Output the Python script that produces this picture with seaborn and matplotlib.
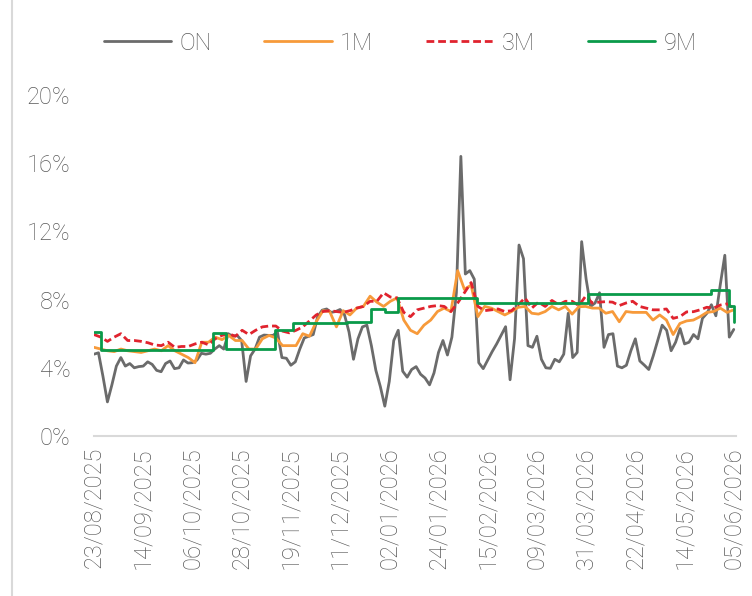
import numpy as np
import pandas as pd
import matplotlib
matplotlib.use("Agg")
import matplotlib.pyplot as plt
import matplotlib.dates as mdates
from matplotlib.lines import Line2D
from matplotlib.ticker import FuncFormatter
import seaborn as sns

# ---------------- data ----------------
start_date = "2025-08-23"
end_date = "2026-06-05"

on_values = [
    4.8, 4.88, 3.5, 2.0, 3.0, 4.1, 4.6, 4.1, 4.25, 4.0,
    4.07, 4.1, 4.35, 4.2, 3.85, 3.77, 4.25, 4.4, 3.95, 4.0,
    4.46, 4.28, 4.3, 4.45, 4.85, 4.8, 4.85, 5.1, 5.3, 5.1,
    6.0, 5.85, 5.9, 5.6, 3.2, 4.7, 5.1, 5.8, 5.92, 5.9,
    5.9, 6.1, 4.6, 4.56, 4.15, 4.35, 5.1, 5.75, 5.85, 5.95,
    7.0, 7.38, 7.45, 7.25, 7.3, 7.42, 7.1, 6.1, 4.5, 5.7,
    6.4, 6.5, 5.3, 3.85, 2.9, 1.75, 3.2, 5.6, 6.2, 3.8,
    3.45, 3.9, 4.07, 3.62, 3.4, 3.0, 3.7, 4.9, 5.6, 4.75,
    5.8, 8.4, 16.4, 9.5, 9.7, 9.2, 4.3, 3.95, 4.45, 4.95,
    5.4, 5.9, 6.41, 3.3, 5.7, 11.2, 10.4, 5.3, 5.2, 5.85,
    4.5, 4.0, 3.97, 4.5, 4.35, 4.8, 7.2, 4.6, 4.9, 11.4,
    9.2, 7.6, 7.8, 8.4, 5.2, 5.95, 6.0, 4.1, 4.0, 4.15,
    5.0, 5.7, 4.4, 4.16, 3.9, 4.7, 5.6, 6.5, 6.2, 5.0,
    5.5, 6.3, 5.4, 5.5, 5.95, 5.7, 6.9, 7.2, 7.7, 7.05,
    8.9, 10.6, 5.8, 6.25,
]

m1_values = [
    5.2, 5.1, 5.0, 4.95, 5.1, 5.0, 4.95, 4.9, 5.0, 5.1,
    5.0, 5.3, 5.0, 4.8, 4.6, 4.3, 5.5, 5.5, 5.8, 5.65,
    5.9, 5.6, 5.6, 5.1, 5.1, 5.7, 5.9, 5.75, 5.3, 5.3,
    5.3, 6.0, 5.85, 6.7, 7.35, 7.3, 6.4, 7.35, 7.1, 7.5,
    7.6, 8.2, 7.85, 7.6, 7.9, 8.1, 6.8, 6.2, 6.0, 6.5,
    6.8, 7.3, 7.5, 7.3, 9.7, 8.6, 8.85, 7.0, 7.6, 7.5,
    7.3, 7.1, 7.3, 7.55, 7.6, 7.2, 7.15, 7.3, 7.6, 7.4,
    7.6, 7.15, 7.58, 7.6, 7.5, 7.5, 7.2, 7.3, 6.7, 7.3,
    7.25, 7.25, 7.25, 6.8, 7.1, 6.8, 5.95, 6.6, 6.75, 6.8,
    7.0, 7.25, 7.3, 7.5, 7.25, 7.4,
]

m3_values = [
    5.95, 5.8, 5.55, 5.8, 6.0, 5.6, 5.6, 5.55, 5.47, 5.34,
    5.3, 5.5, 5.2, 5.25, 5.25, 5.4, 5.5, 5.35, 5.7, 5.9,
    6.0, 5.85, 6.2, 5.95, 6.2, 6.4, 6.45, 6.45, 6.15, 6.05,
    6.2, 6.4, 6.75, 7.1, 7.3, 7.35, 7.3, 7.25, 7.35, 7.5,
    7.6, 7.9, 7.9, 8.4, 8.15, 8.1, 7.25, 7.0, 7.4, 7.5,
    7.6, 7.65, 7.6, 7.3, 7.8, 8.4, 9.0, 7.6, 7.35, 7.4,
    7.45, 7.3, 7.35, 7.7, 8.1, 7.5, 7.85, 7.6, 7.95, 7.7,
    7.9, 7.9, 7.65, 8.2, 7.8, 7.85, 7.88, 7.85, 7.65, 7.8,
    7.9, 7.6, 7.5, 7.4, 7.4, 7.45, 6.9, 7.0, 7.28, 7.29,
    7.4, 7.55, 7.5, 7.68, 7.75, 7.5,
]

m9_dates = [
    "2025-08-23", "2025-08-26", "2025-10-15", "2025-10-21", "2025-11-12",
    "2025-11-20", "2025-12-14", "2025-12-25", "2025-12-31", "2026-01-06",
    "2026-02-10", "2026-04-01", "2026-05-26", "2026-06-03", "2026-06-05",
]
m9_values = [
    6.12, 5.04, 6.02, 5.1, 6.22,
    6.6, 6.7, 7.43, 7.29, 8.1,
    7.82, 8.33, 8.56, 7.6, 6.7,
]

series_names = ["ON", "1M", "3M", "9M"]
y_ticks = [0, 4, 8, 12, 16, 20]

# ---------------- frames ----------------
on_df = pd.DataFrame({"date": pd.date_range(start_date, end_date, periods=len(on_values)),
                      "rate": on_values})
m1_df = pd.DataFrame({"date": pd.date_range(start_date, end_date, periods=len(m1_values)),
                      "rate": m1_values})
m3_df = pd.DataFrame({"date": pd.date_range(start_date, end_date, periods=len(m3_values)),
                      "rate": m3_values})
m9_df = pd.DataFrame({"date": pd.to_datetime(m9_dates), "rate": m9_values})
tick_dates = pd.date_range(start_date, end_date, freq="22D")

# ---------------- style ----------------
sns.set_theme(style="white")
plt.rcParams["font.family"] = ["Roboto", "DejaVu Sans"]
text_color = "#595959"
fs = 17

fig = plt.figure(figsize=(7.52, 5.96), dpi=100)
ax = fig.add_axes([94 / 752, 1 - 436 / 596, (736 - 94) / 752, (436 - 95) / 596])

lw = 2.0
sns.lineplot(data=on_df, x="date", y="rate", ax=ax, color="#6b6b6b", lw=lw, label="ON")
sns.lineplot(data=m1_df, x="date", y="rate", ax=ax, color="#f79a3a", lw=lw, label="1M")
sns.lineplot(data=m3_df, x="date", y="rate", ax=ax, color="#e0232e", lw=lw,
             linestyle=(0, (2.8, 1.4)), label="3M")
sns.lineplot(data=m9_df, x="date", y="rate", ax=ax, color="#0a9a4a", lw=lw,
             drawstyle="steps-post", label="9M")

ax.set_xlim(pd.Timestamp(start_date), pd.Timestamp(end_date) + pd.Timedelta(days=1))
ax.set_ylim(0, 20)
ax.set_yticks(y_ticks)
ax.yaxis.set_major_formatter(FuncFormatter(lambda v, p: f"{v:.0f}%"))
ax.set_xticks(tick_dates)
ax.xaxis.set_major_formatter(mdates.DateFormatter("%d/%m/%Y"))
ax.set_xlabel("")
ax.set_ylabel("")

ax.tick_params(axis="y", length=0, pad=17, labelsize=fs, labelcolor=text_color)
ax.tick_params(axis="x", length=0, pad=8, labelsize=fs, labelcolor=text_color,
               labelrotation=90)
for lab in ax.get_yticklabels() + ax.get_xticklabels():
    lab.set_fontweight("light")

for s in ["top", "right", "left"]:
    ax.spines[s].set_visible(False)
ax.spines["bottom"].set_color("#d9d9d9")
ax.spines["bottom"].set_linewidth(1.5)
ax.grid(False)

handles, labels = ax.get_legend_handles_labels()
ax.legend_.remove()
leg = fig.legend(handles, labels, loc="center", bbox_to_anchor=(400 / 752, 1 - 43 / 596),
                 ncol=4, frameon=False, fontsize=fs, handlelength=2.85,
                 handletextpad=0.35, columnspacing=2.25)
for t in leg.get_texts():
    t.set_color(text_color)
    t.set_fontweight("light")

fig.add_artist(Line2D([11.5 / 752, 11.5 / 752], [0, 1], transform=fig.transFigure,
                      color="#d9d9d9", lw=1.5))

fig.savefig("out.png", dpi=100)
